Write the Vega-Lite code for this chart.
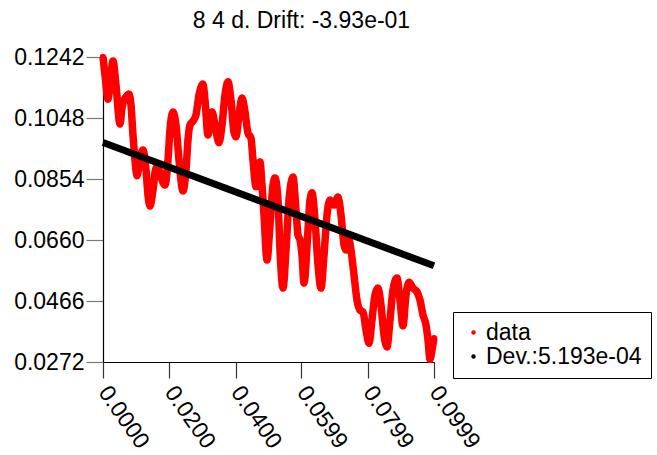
{
  "$schema": "https://vega.github.io/schema/vega-lite/v6.json",
  "width": 331,
  "height": 305,
  "autosize": {"type": "none"},
  "padding": {"left": 103, "top": 57, "right": 223, "bottom": 93},
  "background": "white",
  "config": {
    "font": "Liberation Sans",
    "view": {"stroke": null},
    "axis": {"grid": false, "title": null, "labelFontSize": 23, "labelColor": "black", "domainColor": "black", "domainWidth": 1.2, "labelFont": "Liberation Sans"}
  },
  "title": {
    "text": "8 4 d. Drift: -3.93e-01",
    "fontSize": 23,
    "fontWeight": "normal",
    "color": "black",
    "font": "Liberation Sans",
    "anchor": "middle",
    "dx": 33,
    "baseline": "alphabetic",
    "offset": -9
  },
  "datasets": {
    "curve": [
      {"t": 0.0000, "v": 0.1242}, {"t": 0.00060, "v": 0.1185}, {"t": 0.00151, "v": 0.1108}, {"t": 0.00211, "v": 0.1153},
      {"t": 0.00302, "v": 0.1229}, {"t": 0.00392, "v": 0.1153}, {"t": 0.00513, "v": 0.1029}, {"t": 0.00573, "v": 0.1080},
      {"t": 0.00634, "v": 0.1105}, {"t": 0.00694, "v": 0.1115}, {"t": 0.00785, "v": 0.1124}, {"t": 0.00845, "v": 0.1089},
      {"t": 0.00905, "v": 0.0994}, {"t": 0.00966, "v": 0.0914}, {"t": 0.01026, "v": 0.0864}, {"t": 0.01117, "v": 0.0921},
      {"t": 0.01207, "v": 0.0946}, {"t": 0.01298, "v": 0.0883}, {"t": 0.01358, "v": 0.0803}, {"t": 0.01419, "v": 0.0768},
      {"t": 0.01509, "v": 0.0819}, {"t": 0.01600, "v": 0.0889}, {"t": 0.01690, "v": 0.0883}, {"t": 0.01781, "v": 0.0851},
      {"t": 0.01871, "v": 0.0835}, {"t": 0.01962, "v": 0.0914}, {"t": 0.02022, "v": 0.1010}, {"t": 0.02113, "v": 0.1067},
      {"t": 0.02203, "v": 0.1026}, {"t": 0.02294, "v": 0.0914}, {"t": 0.02414, "v": 0.0816}, {"t": 0.02505, "v": 0.0883},
      {"t": 0.02565, "v": 0.0978}, {"t": 0.02626, "v": 0.1026}, {"t": 0.02716, "v": 0.1038}, {"t": 0.02807, "v": 0.1058},
      {"t": 0.02897, "v": 0.1121}, {"t": 0.03018, "v": 0.1156}, {"t": 0.03078, "v": 0.1105}, {"t": 0.03169, "v": 0.0994},
      {"t": 0.03229, "v": 0.1035}, {"t": 0.03290, "v": 0.1067}, {"t": 0.03380, "v": 0.1026}, {"t": 0.03501, "v": 0.0969},
      {"t": 0.03592, "v": 0.1026}, {"t": 0.03682, "v": 0.1121}, {"t": 0.03772, "v": 0.1163}, {"t": 0.03863, "v": 0.1105},
      {"t": 0.03954, "v": 0.1003}, {"t": 0.04014, "v": 0.0988}, {"t": 0.04105, "v": 0.1058}, {"t": 0.04195, "v": 0.1112},
      {"t": 0.04286, "v": 0.1067}, {"t": 0.04376, "v": 0.1000}, {"t": 0.04467, "v": 0.0984}, {"t": 0.04527, "v": 0.0914},
      {"t": 0.04618, "v": 0.0829}, {"t": 0.04678, "v": 0.0883}, {"t": 0.04738, "v": 0.0908}, {"t": 0.04799, "v": 0.0835},
      {"t": 0.04859, "v": 0.0740}, {"t": 0.04950, "v": 0.0596}, {"t": 0.05040, "v": 0.0708}, {"t": 0.05131, "v": 0.0835},
      {"t": 0.05191, "v": 0.0857}, {"t": 0.05282, "v": 0.0787}, {"t": 0.05342, "v": 0.0628}, {"t": 0.05433, "v": 0.0507},
      {"t": 0.05523, "v": 0.0628}, {"t": 0.05614, "v": 0.0787}, {"t": 0.05734, "v": 0.0860}, {"t": 0.05825, "v": 0.0755},
      {"t": 0.05885, "v": 0.0676}, {"t": 0.05946, "v": 0.0660}, {"t": 0.06006, "v": 0.0612}, {"t": 0.06066, "v": 0.0523},
      {"t": 0.06187, "v": 0.0692}, {"t": 0.06247, "v": 0.0787}, {"t": 0.06308, "v": 0.0810}, {"t": 0.06398, "v": 0.0724},
      {"t": 0.06489, "v": 0.0581}, {"t": 0.06579, "v": 0.0507}, {"t": 0.06670, "v": 0.0612}, {"t": 0.06761, "v": 0.0740},
      {"t": 0.06851, "v": 0.0787}, {"t": 0.06972, "v": 0.0771}, {"t": 0.07093, "v": 0.0797}, {"t": 0.07183, "v": 0.0740},
      {"t": 0.07274, "v": 0.0644}, {"t": 0.07334, "v": 0.0628}, {"t": 0.07425, "v": 0.0660}, {"t": 0.07485, "v": 0.0628},
      {"t": 0.07575, "v": 0.0549}, {"t": 0.07666, "v": 0.0469}, {"t": 0.07757, "v": 0.0437}, {"t": 0.07847, "v": 0.0431},
      {"t": 0.07938, "v": 0.0374}, {"t": 0.08028, "v": 0.0332}, {"t": 0.08119, "v": 0.0406}, {"t": 0.08209, "v": 0.0485},
      {"t": 0.08300, "v": 0.0507}, {"t": 0.08390, "v": 0.0453}, {"t": 0.08481, "v": 0.0358}, {"t": 0.08571, "v": 0.0320},
      {"t": 0.08662, "v": 0.0406}, {"t": 0.08752, "v": 0.0501}, {"t": 0.08873, "v": 0.0539}, {"t": 0.08964, "v": 0.0469},
      {"t": 0.09054, "v": 0.0387}, {"t": 0.09145, "v": 0.0485}, {"t": 0.09235, "v": 0.0526}, {"t": 0.09356, "v": 0.0507},
      {"t": 0.09477, "v": 0.0495}, {"t": 0.09567, "v": 0.0469}, {"t": 0.09658, "v": 0.0421}, {"t": 0.09748, "v": 0.0390},
      {"t": 0.09809, "v": 0.0342}, {"t": 0.09869, "v": 0.0281}, {"t": 0.09929, "v": 0.0310}, {"t": 0.09990, "v": 0.0348}
    ],
    "fit": [
      {"t": 0.0, "v": 0.0970},
      {"t": 0.0999, "v": 0.0578}
    ]
  },
  "layer": [
    {
      "data": {"name": "curve"},
      "transform": [{"calculate": "'data'", "as": "series"}],
      "mark": {"type": "line", "strokeWidth": 7.5, "interpolate": "monotone", "clip": false},
      "encoding": {
        "x": {
          "field": "t", "type": "quantitative",
          "scale": {"domain": [0, 0.0999], "nice": false, "zero": false},
          "axis": {
            "values": [0, 0.02, 0.04, 0.0599, 0.0799, 0.0999],
            "format": ".4f",
            "tickSize": 16, "tickColor": "#333333", "tickWidth": 1.2,
            "labelAngle": 55, "labelAlign": "left", "labelBaseline": "middle",
            "labelPadding": 10, "labelFlush": false, "labelOverlap": false
          }
        },
        "y": {
          "field": "v", "type": "quantitative",
          "scale": {"domain": [0.0272, 0.1242], "nice": false, "zero": false},
          "axis": {
            "values": [0.0272, 0.0466, 0.0660, 0.0854, 0.1048, 0.1242],
            "format": ".4f",
            "tickSize": 17, "tickColor": "#777777", "tickWidth": 1.2,
            "labelPadding": 2, "labelFlush": false, "labelOverlap": false
          }
        },
        "color": {
          "field": "series", "type": "nominal",
          "scale": {"domain": ["data", "Dev.:5.193e-04"], "range": ["#ff0000", "#000000"]},
          "legend": {
            "title": null,
            "orient": "none",
            "legendX": 350,
            "legendY": 255,
            "labelFontSize": 23,
            "labelFont": "Liberation Sans",
            "labelColor": "black",
            "labelOffset": 1,
            "labelLimit": 300,
            "symbolType": "circle",
            "symbolSize": 20,
            "symbolStrokeWidth": 0,
            "rowPadding": -1,
            "padding": 9,
            "strokeColor": "black",
            "fillColor": "white",
            "encode": {
              "symbols": {"update": {"fill": {"scale": "color", "field": "value"}, "strokeWidth": {"value": 0}}}
            }
          }
        }
      }
    },
    {
      "data": {"name": "curve"},
      "transform": [{"calculate": "'data'", "as": "series"}],
      "mark": {"type": "point", "filled": true, "size": 40, "opacity": 1, "clip": false},
      "encoding": {
        "x": {"field": "t", "type": "quantitative"},
        "y": {"field": "v", "type": "quantitative"},
        "color": {"field": "series", "type": "nominal"}
      }
    },
    {
      "data": {"name": "fit"},
      "transform": [{"calculate": "'Dev.:5.193e-04'", "as": "series"}],
      "mark": {"type": "line", "strokeWidth": 7},
      "encoding": {
        "x": {"field": "t", "type": "quantitative"},
        "y": {"field": "v", "type": "quantitative"},
        "color": {"field": "series", "type": "nominal"}
      }
    }
  ]
}
